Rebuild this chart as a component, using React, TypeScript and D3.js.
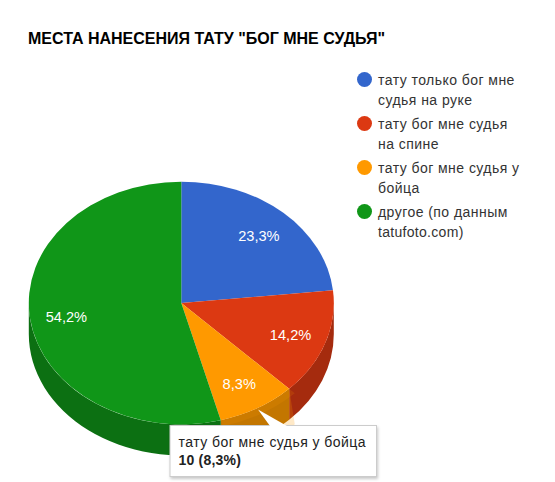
import React from "react";
import * as d3 from "d3";

const width = 555;
const height = 482;
const titleText = 'МЕСТА НАНЕСЕНИЯ ТАТУ "БОГ МНЕ СУДЬЯ"';
const categories = ["тату только бог мне судья на руке", "тату бог мне судья на спине", "тату бог мне судья у бойца", "другое (по данным tatufoto.com)"];
const legendLines = [["тату только бог мне", "судья на руке"], ["тату бог мне судья", "на спине"], ["тату бог мне судья у", "бойца"], ["другое (по данным", "tatufoto.com)"]];
const values = [28, 17, 10, 65];
const labels = ["23,3%", "14,2%", "8,3%", "54,2%"];
const colors = ["#3366cc", "#dc3912", "#ff9900", "#109618"];
const sideColors = ["#264d99", "#a52b0e", "#b36c00", "#0c7012"];
const tooltipIndex = 2;
const tooltipValue = "10 (8,3%)";

const FONT = "Arial, 'Liberation Sans', sans-serif";

export default function App() {
  const cx = 181.3, cy = 303, rx = 152.5, ry = 121.3, depth = 31, ringW = 8;
  const k = ry / rx;
  const slices = d3.pie<number>().value((d) => d).sort(null)(values);
  const arc = d3.arc<d3.PieArcDatum<number>>().innerRadius(0).outerRadius(rx);
  const labelArc = d3.arc<d3.PieArcDatum<number>>().innerRadius(rx * 0.76).outerRadius(rx * 0.76);
  const ringArc = d3.arc<d3.PieArcDatum<number>>().innerRadius(rx).outerRadius(rx + ringW);

  const pt = (a: number, r: number, dy = 0): [number, number] => [cx + r * Math.sin(a), cy - r * k * Math.cos(a) + dy];
  const sidePath = (a0: number, a1: number, r: number, d: number, rTop = r) => {
    const s = Math.max(a0, Math.PI / 2), e = Math.min(a1, 1.5 * Math.PI);
    if (e <= s) return "";
    const large = e - s > Math.PI ? 1 : 0;
    const [x0, y0] = pt(s, rTop), [x1, y1] = pt(e, rTop), [x2, y2] = pt(e, r, d), [x3, y3] = pt(s, r, d);
    return `M${x0},${y0}A${rTop},${rTop * k} 0 ${large} 1 ${x1},${y1}L${x2},${y2}A${r},${r * k} 0 ${large} 0 ${x3},${y3}Z`;
  };
  const hs = slices[tooltipIndex];

  return (
    <svg width={width} height={height} style={{ position: "absolute", left: 0, top: 0 }} fontFamily={FONT}>
      <defs>
        <filter id="sh" x="-10%" y="-20%" width="120%" height="150%">
          <feDropShadow dx="1" dy="2" stdDeviation="1.5" floodColor="#000" floodOpacity="0.22" />
        </filter>
      </defs>
      <rect width={width} height={height} fill="#fff" />
      <text x={28} y={44} fontSize={16} fontWeight="bold" fill="#000">{titleText}</text>
      {slices.map((s, i) => (
        <path key={"side" + i} d={sidePath(s.startAngle, s.endAngle, rx, depth)} fill={sideColors[i]} />
      ))}
      <g transform={`translate(${cx},${cy}) scale(1,${k})`}>
        {slices.map((s, i) => (
          <path key={categories[i]} d={arc(s) || ""} fill={colors[i]} />
        ))}
      </g>
      <path d={sidePath(hs.startAngle, hs.endAngle, rx + ringW, depth, rx)} fill={colors[tooltipIndex]} opacity={0.22} />
      <g transform={`translate(${cx},${cy}) scale(1,${k})`}>
        <path d={ringArc(hs) || ""} fill={colors[tooltipIndex]} opacity={0.15} />
      </g>
      {slices.map((s, i) => {
        const [x, y] = labelArc.centroid(s);
        return (
          <text key={"l" + i} x={cx + x} y={cy + y * k + 6.5} textAnchor="middle" fontSize={14.6} fill="#fff">{labels[i]}</text>
        );
      })}
      {legendLines.map((lines, i) => (
        <g key={"leg" + i}>
          <circle cx={364.5} cy={79.5 + i * 44} r={7.5} fill={colors[i]} />
          {lines.map((t, j) => (
            <text key={j} x={378} y={85 + i * 44 + j * 20} fontSize={14} letterSpacing={/^[a-z]/.test(t) ? 0.3 : 0.45} fill="#333">{t}</text>
          ))}
        </g>
      ))}
      <rect x={170} y={425.5} width={206.5} height={51} fill="#fff" stroke="#ccc" strokeWidth={1} filter="url(#sh)" />
      <path d="M258,409.5L287,426L270,426Z" fill="#fff" />
      <text x={178.5} y={447} fontSize={14} letterSpacing={0.45} fill="#222">{categories[tooltipIndex]}</text>
      <text x={178.5} y={465} fontSize={14} fontWeight="bold" letterSpacing={0.2} fill="#222">{tooltipValue}</text>
    </svg>
  );
}
